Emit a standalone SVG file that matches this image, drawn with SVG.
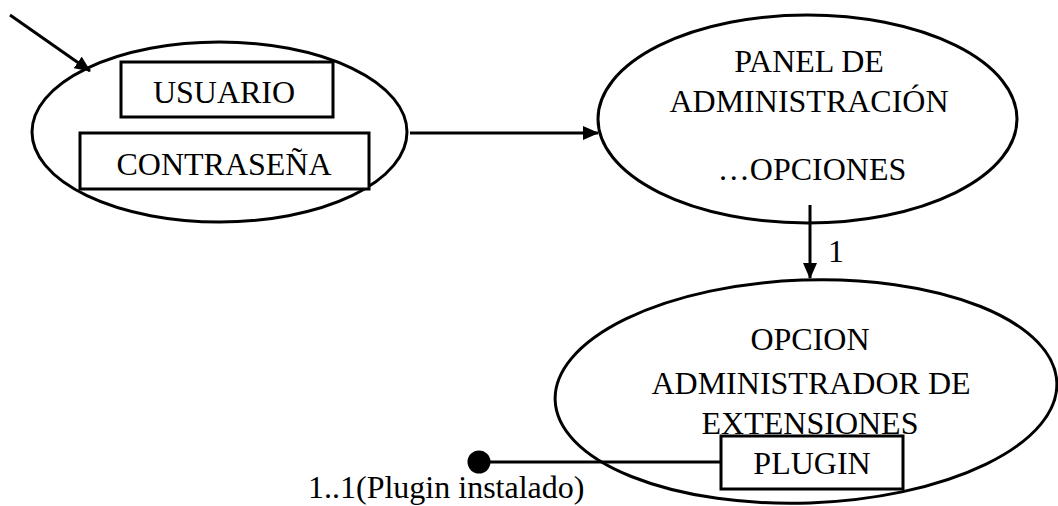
<svg xmlns="http://www.w3.org/2000/svg" width="1058" height="506" viewBox="0 0 1058 506">
  <style>
    .shape { fill: none; stroke: #000; stroke-width: 3; }
    .box { fill: #fff; stroke: #000; stroke-width: 3; }
    .wire { fill: none; stroke: #000; stroke-width: 3; }
    .lbl { font-family: "Liberation Serif", "Times New Roman", serif; font-size: 32px; fill: #000; }
    .mid { text-anchor: middle; }
  </style>
  <defs>
    <marker id="arrow" markerUnits="userSpaceOnUse" markerWidth="16" markerHeight="14" refX="15" refY="7" orient="auto">
      <path d="M0,0 L16,7 L0,14 Z" fill="#000"/>
    </marker>
  </defs>
  <rect width="1058" height="506" fill="#fff"/>

  <!-- login node -->
  <g id="login">
    <ellipse class="shape" cx="219.5" cy="132" rx="187.5" ry="90"/>
    <rect class="box" x="121" y="62" width="212" height="55"/>
    <text class="lbl mid" x="224" y="103">USUARIO</text>
    <rect class="box" x="80" y="133" width="289" height="56"/>
    <text class="lbl mid" x="224" y="175">CONTRASEÑA</text>
  </g>

  <!-- admin panel node -->
  <g id="panel">
    <ellipse class="shape" cx="807.5" cy="119" rx="209.5" ry="104"/>
    <text class="lbl mid" x="809" y="72">PANEL DE</text>
    <text class="lbl mid" x="809" y="112">ADMINISTRACIÓN</text>
    <text class="lbl mid" x="812" y="180">…OPCIONES</text>
  </g>

  <!-- extensions manager node -->
  <g id="extensiones">
    <ellipse class="shape" cx="806" cy="391.5" rx="251" ry="111.5" transform="rotate(-2 806 391.5)"/>
    <text class="lbl mid" x="810" y="350">OPCION</text>
    <text class="lbl mid" x="811" y="394">ADMINISTRADOR DE</text>
    <text class="lbl mid" x="810" y="434">EXTENSIONES</text>
  </g>

  <!-- plugin node -->
  <g id="plugin">
    <rect class="box" x="721" y="436" width="182" height="53"/>
    <text class="lbl mid" x="812" y="474">PLUGIN</text>
  </g>

  <!-- connectors -->
  <g id="connectors">
    <line class="wire" x1="10" y1="15" x2="90" y2="71" marker-end="url(#arrow)"/>
    <line class="wire" x1="410" y1="133" x2="598" y2="133" marker-end="url(#arrow)"/>
    <line class="wire" x1="810" y1="205" x2="810" y2="278" marker-end="url(#arrow)"/>
    <text class="lbl" x="828" y="262">1</text>
    <line class="wire" x1="479" y1="462" x2="721" y2="462"/>
    <circle cx="479" cy="462" r="11.5" fill="#000"/>
    <text class="lbl" x="308" y="498">1..1(Plugin instalado)</text>
  </g>
</svg>
